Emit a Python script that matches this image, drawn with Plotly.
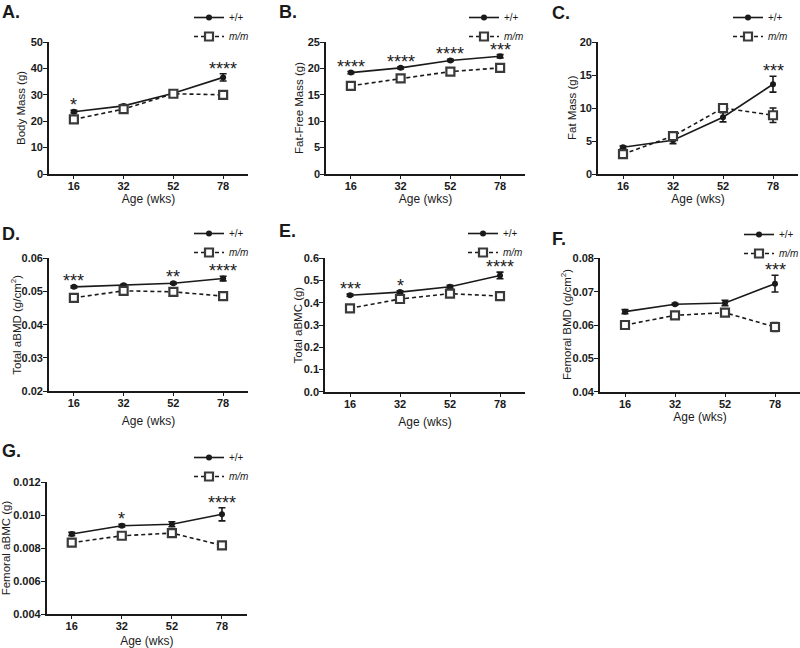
import plotly.graph_objects as go

# ---------------- data ----------------
ages = ["16", "32", "52", "78"]
genotypes = ["+/+", "<i>m/m</i>"]

body_mass_wt = [23.6, 25.8, 30.6, 36.6]
body_mass_wt_err = [0.5, 0.5, 0.5, 1.4]
body_mass_mm = [20.7, 24.6, 30.4, 30.0]
body_mass_mm_err = [0.5, 0.6, 0.6, 1.4]

ffm_wt = [19.2, 20.1, 21.5, 22.3]
ffm_wt_err = [0.2, 0.2, 0.2, 0.3]
ffm_mm = [16.7, 18.1, 19.4, 20.1]
ffm_mm_err = [0.2, 0.3, 0.3, 0.6]

fat_wt = [4.05, 5.1, 8.6, 13.6]
fat_wt_err = [0.2, 0.5, 0.7, 1.2]
fat_mm = [3.0, 5.75, 10.0, 8.9]
fat_mm_err = [0.2, 0.4, 0.6, 1.1]

tbmd_wt = [0.0514, 0.0519, 0.0525, 0.0539]
tbmd_wt_err = [0.0003, 0.0003, 0.0003, 0.0007]
tbmd_mm = [0.0481, 0.0502, 0.0499, 0.0486]
tbmd_mm_err = [0.0003, 0.0005, 0.0004, 0.0004]

tbmc_wt = [0.434, 0.448, 0.472, 0.523]
tbmc_wt_err = [0.005, 0.006, 0.006, 0.015]
tbmc_mm = [0.375, 0.417, 0.441, 0.430]
tbmc_mm_err = [0.006, 0.007, 0.005, 0.005]

fbmd_wt = [0.0640, 0.0662, 0.0666, 0.0724]
fbmd_wt_err = [0.0006, 0.0003, 0.0008, 0.0025]
fbmd_mm = [0.0600, 0.0629, 0.0637, 0.0594]
fbmd_mm_err = [0.0004, 0.0005, 0.0009, 0.0013]

fbmc_wt = [0.00887, 0.00937, 0.00946, 0.01006]
fbmc_wt_err = [0.0001, 0.00008, 0.00015, 0.0004]
fbmc_mm = [0.00834, 0.00876, 0.00892, 0.00818]
fbmc_mm_err = [0.0001, 0.0001, 0.00012, 0.00015]

stars_a = ["*", "", "", "****"]
stars_b = ["****", "****", "****", "***"]
stars_c = ["", "", "", "***"]
stars_d = ["***", "", "**", "****"]
stars_e = ["***", "*", "", "****"]
stars_f = ["", "", "", "***"]
stars_g = ["", "*", "", "****"]

panel_letters = ["A.", "B.", "C.", "D.", "E.", "F.", "G."]
y_titles = ["Body Mass (g)", "Fat-Free Mass (g)", "Fat Mass (g)",
            "Total aBMD (g/cm<sup>2</sup>)", "Total aBMC (g)",
            "Femoral BMD (g/cm<sup>2</sup>)", "Femoral aBMC (g)"]
x_title = "Age (wks)"

y_ranges = [[0, 50], [0, 25], [0, 20], [0.02, 0.06], [0.0, 0.6], [0.04, 0.08], [0.004, 0.012]]
y_dticks = [10, 5, 5, 0.01, 0.1, 0.01, 0.002]
y_formats = ["d", "d", "d", ".2f", ".1f", ".2f", ".3f"]

# ---------------- layout geometry (pixels) ----------------
W, H = 800, 648
def px_x(v): return v / W
def px_y(v): return 1 - v / H

# (x0, x1, ytop, ybottom) plot area in pixels
boxes = [
    (49, 248, 42, 174),
    (326, 525, 42, 174),
    (598, 798, 42, 174),
    (49, 248, 258.3, 391),
    (325, 525, 258.3, 391.7),
    (600, 800, 258.3, 391.7),
    (46.7, 247, 482.3, 614.3),
]
legend_pos = [(189, 3), (464, 3), (728, 3), (189, 219), (463, 219), (739, 220), (189, 443)]
letter_pos = [(0, 0), (277, 0), (550, 1), (0, 222), (277, 219), (550, 227), (0, 439)]
y_title_x = [21, 299, 572, 16, 297.5, 566, 6]
x_standoff = [4, 4, 4, 9, 9, 4, 8]

panels = [
    (body_mass_wt, body_mass_wt_err, body_mass_mm, body_mass_mm_err, stars_a),
    (ffm_wt, ffm_wt_err, ffm_mm, ffm_mm_err, stars_b),
    (fat_wt, fat_wt_err, fat_mm, fat_mm_err, stars_c),
    (tbmd_wt, tbmd_wt_err, tbmd_mm, tbmd_mm_err, stars_d),
    (tbmc_wt, tbmc_wt_err, tbmc_mm, tbmc_mm_err, stars_e),
    (fbmd_wt, fbmd_wt_err, fbmd_mm, fbmd_mm_err, stars_f),
    (fbmc_wt, fbmc_wt_err, fbmc_mm, fbmc_mm_err, stars_g),
]

FONT = "Liberation Sans, Arial, sans-serif"
INK = "#1a1a1a"

fig = go.Figure()
layout = dict(
    width=W, height=H, margin=dict(l=0, r=0, t=0, b=0, autoexpand=False),
    paper_bgcolor="white", plot_bgcolor="white",
    font=dict(family=FONT, color=INK),
    annotations=[],
)

for i, (wt, wt_err, mm, mm_err, stars) in enumerate(panels):
    n = i + 1
    xa = "x" if n == 1 else f"x{n}"
    ya = "y" if n == 1 else f"y{n}"
    lg = "legend" if n == 1 else f"legend{n}"

    fig.add_trace(go.Scatter(
        x=ages, y=wt, name=genotypes[0], xaxis=xa, yaxis=ya, legend=lg,
        mode="lines+markers",
        line=dict(color=INK, width=1.6),
        marker=dict(symbol="circle", size=6, color=INK),
        error_y=dict(type="data", array=wt_err, color=INK, thickness=1.6, width=3.5),
    ))
    fig.add_trace(go.Scatter(
        x=ages, y=mm, name=genotypes[1], xaxis=xa, yaxis=ya, legend=lg,
        mode="lines+markers",
        line=dict(color=INK, width=1.6, dash="4px,3px"),
        marker=dict(symbol="square", size=8, color="white", line=dict(color="#3a3a3a", width=2.2)),
        error_y=dict(type="data", array=mm_err, color=INK, thickness=1.6, width=3.5),
    ))

    x0, x1, yt, yb = boxes[i]
    layout[f"xaxis{'' if n == 1 else n}"] = dict(
        domain=[px_x(x0), px_x(x1)], anchor=ya, type="category",
        range=[-0.5, 3.5], showline=True, linecolor=INK, linewidth=1.6,
        ticks="outside", ticklen=3, tickwidth=1.4, tickcolor=INK,
        showgrid=False, zeroline=False, ticklabelstandoff=-2,
        tickfont=dict(size=11, family=FONT, weight="bold", color=INK),
        title=dict(text=x_title, font=dict(size=12, family=FONT, color=INK), standoff=x_standoff[i]),
    )
    layout[f"yaxis{'' if n == 1 else n}"] = dict(
        domain=[px_y(yb), px_y(yt)], anchor=xa,
        range=y_ranges[i], dtick=y_dticks[i], tick0=y_ranges[i][0], tickformat=y_formats[i],
        showline=True, linecolor=INK, linewidth=1.6,
        ticks="outside", ticklen=4, tickwidth=1.4, tickcolor=INK,
        showgrid=False, zeroline=False, ticklabelstandoff=-2,
        tickfont=dict(size=11, family=FONT, weight="bold", color=INK),
    )
    # y-axis title
    layout["annotations"].append(dict(
        x=px_x(y_title_x[i]), y=px_y((yt + yb) / 2), xref="paper", yref="paper",
        xanchor="center", yanchor="middle", textangle=-90, text=y_titles[i],
        showarrow=False, font=dict(size=11.5, family=FONT, color=INK),
    ))

    lx, ly = legend_pos[i]
    layout[lg] = dict(
        x=px_x(lx), y=px_y(ly), xanchor="left", yanchor="top",
        bgcolor="rgba(0,0,0,0)", borderwidth=0,
        font=dict(size=10, family=FONT, color=INK),
        itemwidth=30, tracegroupgap=0,
    )

    # significance stars (placed above the highest point/error bar at that age)
    for k, s in enumerate(stars):
        if s:
            top = max(wt[k] + wt_err[k], mm[k] + mm_err[k])
            layout["annotations"].append(dict(
                x=k, y=top, xref=xa, yref=ya, text=s, showarrow=False,
                yanchor="bottom", yshift=-7,
                font=dict(size=18, family=FONT, color=INK),
            ))

    letx, lety = letter_pos[i]
    layout["annotations"].append(dict(
        x=px_x(letx), y=px_y(lety), xref="paper", yref="paper",
        xanchor="left", yanchor="top", text=f"<b>{panel_letters[i]}</b>",
        showarrow=False, font=dict(size=18, family=FONT, color=INK),
    ))

layout["showlegend"] = True
fig.update_layout(**layout)
fig.write_html(
    "out.html",
    config={"displayModeBar": False},
    post_script="document.body.style.margin='0px';document.documentElement.style.margin='0px';",
)
